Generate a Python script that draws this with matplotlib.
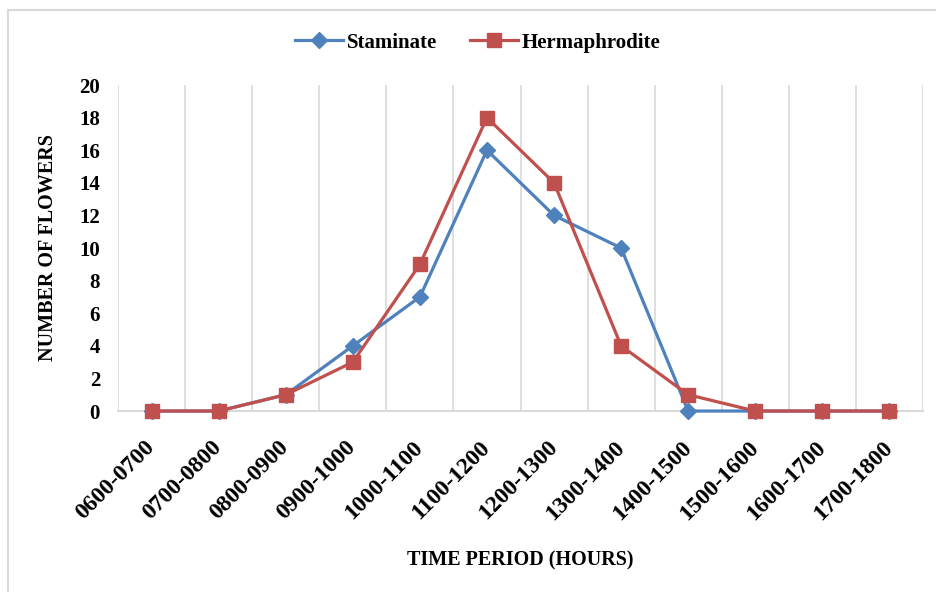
import numpy as np
import matplotlib
matplotlib.use("Agg")
import matplotlib.pyplot as plt
from matplotlib.patches import Rectangle

periods = ["0600-0700", "0700-0800", "0800-0900", "0900-1000", "1000-1100",
           "1100-1200", "1200-1300", "1300-1400", "1400-1500", "1500-1600",
           "1600-1700", "1700-1800"]
staminate = [0, 0, 1, 4, 7, 16, 12, 10, 0, 0, 0, 0]
hermaphrodite = [0, 0, 1, 3, 9, 18, 14, 4, 1, 0, 0, 0]
y_ticks = [0, 2, 4, 6, 8, 10, 12, 14, 16, 18, 20]

BLUE = "#4f81bd"
RED = "#c0504d"
GRID = "#d9d9d9"

plt.rcParams.update({"font.family": "Liberation Serif", "font.weight": "bold"})

fig = plt.figure(figsize=(9.37, 5.92), dpi=100)
ax = fig.add_axes([0.126, 0.3057, 0.859, 0.5507])

x = np.arange(len(periods))
ax.plot(x, staminate, color=BLUE, lw=2.3, marker="D", ms=8.5,
        mec=BLUE, mfc=BLUE, label="Staminate", zorder=3, clip_on=False)
ax.plot(x, hermaphrodite, color=RED, lw=2.3, marker="s", ms=10,
        mec=RED, mfc=RED, label="Hermaphrodite", zorder=4, clip_on=False)

ax.set_xlim(-0.5, len(periods) - 0.5)
ax.set_ylim(0, 20)
ax.set_yticks(y_ticks)
ax.set_yticklabels([str(v) for v in y_ticks], fontsize=15, fontweight="bold")
ax.set_xticks(x)
ax.set_xticklabels(periods, fontsize=17, fontweight="bold", rotation=45,
                   ha="right", va="center", rotation_mode="anchor")
ax.tick_params(axis="x", length=0, pad=24)
ax.tick_params(axis="y", length=0, pad=13)

# vertical gridlines on category boundaries
for b in np.arange(-0.5, len(periods), 1.0):
    ax.axvline(b, color=GRID, lw=1.2, zorder=1)

for side in ["top", "right", "left"]:
    ax.spines[side].set_visible(False)
ax.spines["bottom"].set_color(GRID)
ax.spines["bottom"].set_linewidth(1.5)

ax.set_ylabel("NUMBER OF FLOWERS", fontsize=14.5, fontweight="bold", labelpad=15)
ax.set_xlabel("TIME PERIOD (HOURS)", fontsize=14.5, fontweight="bold", labelpad=19)

leg = fig.legend(loc="center", bbox_to_anchor=(0.51, 0.928), ncol=2, frameon=False,
                 prop={"family": "Liberation Serif", "weight": "bold", "size": 15},
                 handlelength=2.3, columnspacing=1.55, handletextpad=0.2)

fig.patches.append(Rectangle((0.009, -0.2), 1.2, 1.183, transform=fig.transFigure,
                             fill=False, edgecolor=GRID, lw=1.5))

fig.savefig("out.png", dpi=100)
